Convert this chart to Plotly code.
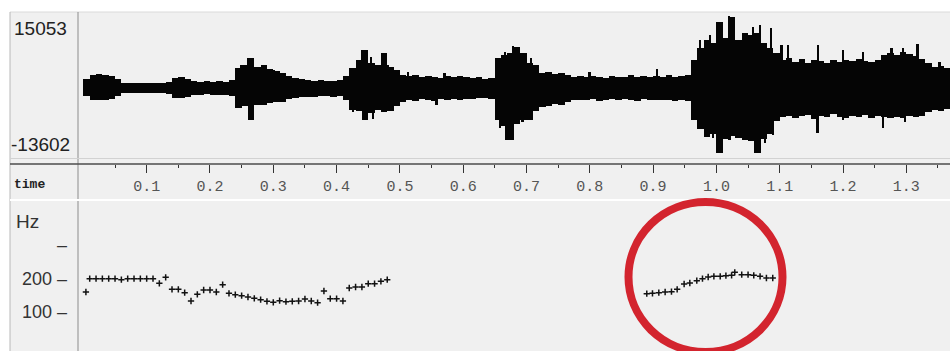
import plotly.graph_objects as go

W, H = 950, 351

# ---------------- data ----------------
wave_range = [-13602, 15053]
wave_bin = 0.01  # seconds per envelope column
wave_upper = [
    1800, 2600, 2800, 2700, 2400, 1800, 1000, 1100, 1000, 1100,
    1000, 1100, 1000, 1300, 2000, 2200, 1900, 1500, 1300, 1500,
    1200, 1400, 1300, 1600, 4000, 4500, 6000, 4200, 4500, 3800,
    3300, 3000, 2400, 2000, 1800, 1600, 1500, 1700, 1400, 1500,
    1600, 2500, 4000, 5500, 7500, 5000, 4500, 7000, 4200, 3500,
    2600, 2400, 2600, 2200, 2500, 2300, 2100, 2400, 2200, 2500,
    2200, 2000, 2200, 1800, 2000, 6000, 6500, 7000, 8200, 7000,
    5000, 4500, 3000, 3200, 2800, 3000, 2600, 2300, 2500, 2200,
    2400, 2300, 2100, 2500, 2200, 2300, 2600, 2200, 2400, 2300,
    2500, 2200, 2600, 2300, 2500, 2700, 5600, 8000, 9500, 9000,
    13000, 10000, 14100, 9500, 10900, 10500, 11000, 9000, 8000, 7000,
    5600, 6000, 5200, 5800, 5000, 5600, 5300, 5000, 5500, 5200,
    5600, 5300, 5800, 5400, 5200, 5600, 6500, 7000, 6500, 7200,
    6800, 6400, 5800, 5000, 4200, 4400, 4000,
]
wave_lower = [
    -1500, -2300, -2400, -2300, -2200, -1600, -1000, -900, -1000, -1000,
    -900, -1000, -1000, -1200, -1900, -2000, -1800, -1400, -1300, -1200,
    -1400, -1300, -1300, -1500, -3900, -3500, -6300, -3300, -3400, -3000,
    -2700, -2800, -2200, -2000, -1800, -1700, -1800, -1600, -1500, -1700,
    -1600, -2400, -4300, -4500, -6300, -5000, -4300, -4800, -4500, -3500,
    -2800, -2300, -2500, -2200, -2300, -2600, -2200, -2300, -2200, -2300,
    -2100, -2200, -2000, -1900, -2100, -6300, -7500, -10200, -7000, -6300,
    -6300, -4500, -3700, -3500, -3200, -3400, -2800, -2300, -2400, -2300,
    -2200, -2500, -2300, -2200, -2400, -2200, -2300, -2500, -2200, -2300,
    -2400, -2300, -2400, -2500, -2300, -2600, -6300, -8000, -9600, -9000,
    -12800, -10000, -9500, -9800, -10200, -10500, -12800, -10000, -9000, -6500,
    -5600, -5400, -5800, -5500, -5300, -6000, -5500, -5700, -5200, -5600,
    -5800, -5500, -5700, -5300, -5800, -5500, -5700, -5900, -5600, -5800,
    -5500, -5700, -5500, -4800, -4300, -4500, -4200,
]
wave_t = [round(wave_bin * (i + 0.5), 4) for i in range(len(wave_upper))]

# isolated sample peaks (spikes) sticking out of the envelope
peak_up_t = [0.249, 0.260, 0.284, 0.302, 0.440, 0.447, 0.455, 0.473, 0.481,
             0.513, 0.571, 0.666, 0.679, 0.687, 0.700, 0.708, 0.800, 0.906,
             0.974, 0.990, 1.006, 1.020, 1.058, 1.069, 1.087, 1.103, 1.113,
             1.161, 1.200, 1.232, 1.277, 1.295, 1.318, 1.353]
peak_up_v = [4600, 6000, 4000, 3600, 7550, 7150, 6170, 6960, 4600,
             3200, 3000, 7150, 8340, 7940, 6000, 6000, 3200, 3800,
             9520, 10510, 13080, 14270, 12090, 12490, 11900, 8540, 8540,
             8540, 7550, 7150, 7940, 7940, 8730, 5140]
peak_dn_t = [0.263, 0.426, 0.442, 0.458, 0.558, 0.658, 0.669, 0.679, 0.694,
             0.706, 0.995, 1.006, 1.021, 1.064, 1.077, 1.090, 1.160, 1.200,
             1.263, 1.298]
peak_dn_v = [-6300, -4700, -6300, -6000, -3300, -7860, -10240, -7860, -6680,
             -6300, -9840, -12800, -10240, -12800, -10830, -9250, -8850, -6300,
             -7860, -6680]

pitch_t = [
    0.004, 0.01, 0.02, 0.03, 0.04, 0.05, 0.06, 0.07, 0.08, 0.09, 0.10,
    0.11, 0.12, 0.13, 0.14, 0.15, 0.16, 0.17, 0.18, 0.19, 0.20,
    0.21, 0.22, 0.23, 0.24, 0.25, 0.26, 0.27, 0.28, 0.29, 0.30,
    0.31, 0.32, 0.33, 0.34, 0.35, 0.36, 0.37, 0.38, 0.39, 0.40,
    0.41, 0.42, 0.43, 0.44, 0.45, 0.46, 0.47, 0.48,
    0.890, 0.899, 0.909, 0.919, 0.929, 0.938, 0.949, 0.958, 0.969, 0.978,
    0.987, 0.996, 1.006, 1.015, 1.024, 1.029, 1.040, 1.050, 1.059, 1.069,
    1.079, 1.089,
]
pitch_hz = [
    159, 199, 199, 199, 199, 199, 196, 199, 199, 199, 199,
    199, 185, 203, 167, 167, 157, 132, 152, 165, 165,
    159, 181, 155, 151, 148, 144, 140, 136, 131, 128,
    133, 130, 131, 132, 138, 132, 127, 162, 139, 139,
    132, 171, 174, 174, 184, 184, 191, 196,
    154, 155, 157, 159, 160, 167, 183, 186, 193, 199,
    204, 206, 206, 208, 209, 218, 211, 211, 209, 206,
    201, 201,
]

time_ticks = [0.1, 0.2, 0.3, 0.4, 0.5, 0.6, 0.7, 0.8, 0.9, 1.0, 1.1, 1.2, 1.3]
time_labels = ["0.1", "0.2", "0.3", "0.4", "0.5", "0.6", "0.7", "0.8", "0.9",
               "1.0", "1.1", "1.2", "1.3"]
time_minor = [0.05, 0.15, 0.25, 0.35, 0.45, 0.55, 0.65, 0.75, 0.85, 0.95,
              1.05, 1.15, 1.25, 1.35]
time_range = [-0.0085, 1.369]

hz_ticks = [100, 200, 300]
hz_labels = ["100 \u2013", "200 \u2013", "\u2013"]
hz_range = [0, 435]

# ---------------- helpers (pixel -> paper) ----------------
def px(x):
    return x / W

def py(y):
    return 1 - y / H

fig = go.Figure()

# waveform envelope as columns
fig.add_trace(go.Bar(
    x=wave_t,
    y=[u - l for u, l in zip(wave_upper, wave_lower)],
    base=wave_lower,
    width=wave_bin * 1.02,
    marker=dict(color="#050505", line=dict(width=0)),
    xaxis="x", yaxis="y", hoverinfo="skip",
))
# spikes
fig.add_trace(go.Bar(
    x=peak_up_t, y=peak_up_v, base=0, width=0.0028,
    marker=dict(color="#050505", line=dict(width=0)),
    xaxis="x", yaxis="y", hoverinfo="skip",
))
fig.add_trace(go.Bar(
    x=peak_dn_t, y=peak_dn_v, base=0, width=0.0028,
    marker=dict(color="#050505", line=dict(width=0)),
    xaxis="x", yaxis="y", hoverinfo="skip",
))

# pitch track
fig.add_trace(go.Scatter(
    x=pitch_t, y=pitch_hz, mode="markers",
    marker=dict(symbol="cross-thin", size=4.5, line=dict(width=1.5, color="#111")),
    xaxis="x2", yaxis="y2", hoverinfo="skip",
))

shapes = [
    dict(type="rect", xref="paper", yref="paper", x0=px(10), x1=1, y0=-0.01, y1=py(12),
         fillcolor="#f0f0f0", line=dict(width=0), layer="below"),
    dict(type="line", xref="paper", yref="paper", x0=px(10), x1=1, y0=py(12), y1=py(12),
         line=dict(color="#dadada", width=1), layer="below"),
    dict(type="line", xref="paper", yref="paper", x0=px(10), x1=px(10), y0=0, y1=py(12),
         line=dict(color="#b8b8b8", width=1), layer="below"),
    dict(type="line", xref="paper", yref="paper", x0=px(78), x1=px(78), y0=0, y1=py(12),
         line=dict(color="#8c8c8c", width=1), layer="below"),
    dict(type="line", xref="paper", yref="paper", x0=px(10), x1=1, y0=py(158.5), y1=py(158.5),
         line=dict(color="#d2d2d2", width=1), layer="below"),
    dict(type="line", xref="paper", yref="paper", x0=px(10), x1=1, y0=py(164), y1=py(164),
         line=dict(color="#4d4d4d", width=1.5), layer="below"),
    dict(type="line", xref="paper", yref="paper", x0=px(10), x1=1, y0=py(200), y1=py(200),
         line=dict(color="#ffffff", width=2), layer="below"),
    dict(type="circle", xref="paper", yref="paper",
         x0=px(628.5), x1=px(782.5), y0=py(352), y1=py(202),
         line=dict(color="#d3242e", width=8), layer="above"),
]

annotations = [
    dict(text=str(wave_range[1]), x=px(12), y=py(28), xref="paper", yref="paper",
         xanchor="left", yanchor="middle", showarrow=False,
         font=dict(family="Liberation Sans, Arial", size=19, color="#222")),
    dict(text=str(wave_range[0]), x=px(9), y=py(145), xref="paper", yref="paper",
         xanchor="left", yanchor="middle", showarrow=False,
         font=dict(family="Liberation Sans, Arial", size=19, color="#222")),
    dict(text="<b>time</b>", x=px(12), y=py(184), xref="paper", yref="paper",
         xanchor="left", yanchor="middle", showarrow=False,
         font=dict(family="Liberation Mono, Courier New", size=13, color="#222")),
    dict(text="Hz", x=px(14), y=py(221), xref="paper", yref="paper",
         xanchor="left", yanchor="middle", showarrow=False,
         font=dict(family="Liberation Sans, Arial", size=19, color="#333")),
]

fig.update_layout(
    width=W, height=H,
    margin=dict(l=0, r=0, t=0, b=0),
    paper_bgcolor="#ffffff",
    plot_bgcolor="rgba(0,0,0,0)",
    showlegend=False,
    barmode="overlay",
    bargap=0,
    shapes=shapes,
    annotations=annotations,
    xaxis=dict(
        domain=[px(78), 1], range=time_range, anchor="free", position=py(164),
        side="bottom", showline=False, showgrid=False, zeroline=False,
        ticks="outside", ticklen=8, tickwidth=1, tickcolor="#333",
        tickvals=time_ticks, ticktext=time_labels, ticklabelstandoff=0,
        tickfont=dict(family="Liberation Mono, Courier New", size=15, color="#555"),
        minor=dict(tickvals=time_minor, ticks="outside", ticklen=3, tickcolor="#333",
                   showgrid=False),
        fixedrange=True,
    ),
    yaxis=dict(
        domain=[py(157), py(12)], range=wave_range, anchor="x",
        visible=False, fixedrange=True,
    ),
    xaxis2=dict(
        domain=[px(78), 1], matches="x", anchor="y2", visible=False,
    ),
    yaxis2=dict(
        domain=[py(345), py(200)], range=hz_range, anchor="x2",
        showline=False, showgrid=False, zeroline=False, ticks="",
        tickvals=hz_ticks, ticktext=hz_labels, ticklabelstandoff=10,
        tickfont=dict(family="Liberation Sans, Arial", size=18, color="#333"),
        fixedrange=True,
    ),
)

fig.write_html(
    "out.html",
    config={"displayModeBar": False},
    post_script="document.body.style.margin='0';document.body.style.overflow='hidden';",
)
